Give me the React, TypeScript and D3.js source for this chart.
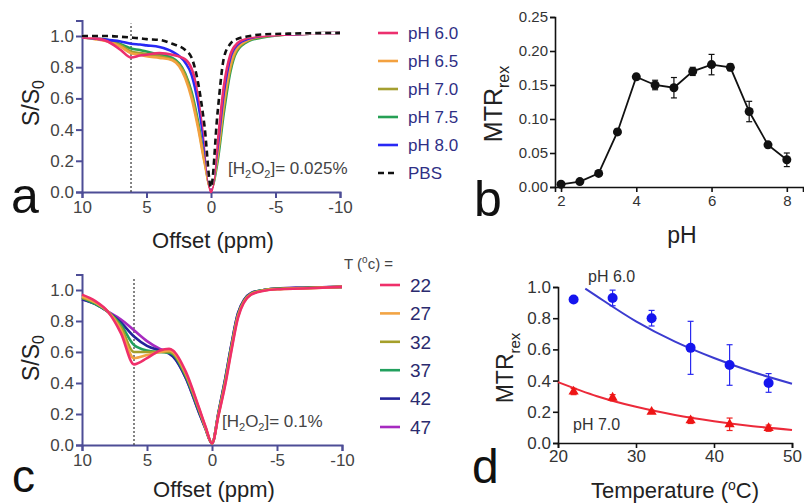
import React, { useEffect, useRef } from 'react';
import * as d3 from 'd3';

const WIDTH = 804;
const HEIGHT = 504;
const FONT = '"Liberation Sans", Arial, Helvetica, sans-serif';

// panel a: z-spectra at different pH, [H2O2] = 0.025%
const offsetsA = [10, 9, 8, 7, 6.2, 5.5, 5, 4, 3, 2, 1.5, 1, 0.5, 0, -0.5, -1, -1.5, -2, -3, -4, -6, -10];
const ph60 = [0.99, 0.985, 0.965, 0.91, 0.862, 0.875, 0.88, 0.89, 0.88, 0.85, 0.79, 0.64, 0.36, 0.0, 0.31, 0.68, 0.88, 0.95, 0.99, 1.0, 1.01, 1.02];
const ph65 = [0.99, 0.98, 0.965, 0.93, 0.89, 0.88, 0.87, 0.86, 0.845, 0.73, 0.6, 0.41, 0.19, 0.02, 0.23, 0.57, 0.81, 0.92, 0.98, 1.0, 1.01, 1.02];
const ph70 = [0.99, 0.985, 0.97, 0.94, 0.9, 0.89, 0.885, 0.87, 0.85, 0.75, 0.62, 0.43, 0.2, 0.02, 0.22, 0.55, 0.79, 0.91, 0.975, 0.995, 1.01, 1.02];
const ph75 = [0.99, 0.985, 0.975, 0.947, 0.92, 0.91, 0.9, 0.88, 0.86, 0.76, 0.64, 0.45, 0.21, 0.02, 0.19, 0.51, 0.77, 0.9, 0.97, 0.99, 1.01, 1.02];
const ph80 = [0.99, 0.985, 0.975, 0.965, 0.95, 0.945, 0.94, 0.93, 0.9, 0.83, 0.75, 0.57, 0.3, 0.02, 0.28, 0.64, 0.86, 0.94, 0.985, 1.0, 1.01, 1.02];
const pbs = [1.0, 1.0, 1.0, 0.995, 0.99, 0.985, 0.98, 0.975, 0.95, 0.91, 0.86, 0.7, 0.42, 0.03, 0.5, 0.86, 0.95, 0.98, 1.0, 1.01, 1.015, 1.02];
const phLabels = ['pH 6.0', 'pH 6.5', 'pH 7.0', 'pH 7.5', 'pH 8.0', 'PBS'];
const phColors = ['#ec2f6e', '#f3a140', '#a49f30', '#26a055', '#2828f5', '#111111'];

// panel b: MTRrex vs pH
const phB = [2, 2.5, 3, 3.5, 4, 4.5, 5, 5.5, 6, 6.5, 7, 7.5, 8];
const mtrB = [0.004, 0.008, 0.02, 0.081, 0.162, 0.15, 0.146, 0.17, 0.18, 0.176, 0.111, 0.062, 0.04];
const errB = [0.002, 0.002, 0.003, 0.004, 0.004, 0.007, 0.015, 0.006, 0.015, 0.005, 0.015, 0.004, 0.01];

// panel c: z-spectra at different temperatures, [H2O2] = 0.1%
const offsetsC = [10, 9, 8, 7, 6, 5, 4, 3.3, 3, 2, 1, 0.5, 0, -0.5, -1, -1.5, -2, -3, -4, -5, -7, -10];
const t22 = [0.97, 0.93, 0.86, 0.72, 0.52, 0.56, 0.61, 0.62, 0.61, 0.47, 0.24, 0.12, 0.01, 0.19, 0.38, 0.61, 0.82, 0.97, 0.995, 1.005, 1.01, 1.02];
const t27 = [0.96, 0.92, 0.86, 0.74, 0.56, 0.58, 0.6, 0.61, 0.6, 0.46, 0.235, 0.115, 0.01, 0.195, 0.39, 0.62, 0.83, 0.972, 0.997, 1.005, 1.01, 1.02];
const t32 = [0.95, 0.92, 0.86, 0.76, 0.6, 0.6, 0.6, 0.6, 0.59, 0.45, 0.23, 0.11, 0.01, 0.2, 0.4, 0.63, 0.835, 0.975, 0.998, 1.007, 1.012, 1.02];
const t37 = [0.95, 0.91, 0.86, 0.775, 0.645, 0.61, 0.6, 0.595, 0.585, 0.44, 0.22, 0.11, 0.01, 0.205, 0.41, 0.64, 0.84, 0.977, 1.0, 1.008, 1.013, 1.02];
const t42 = [0.94, 0.91, 0.86, 0.79, 0.7, 0.64, 0.61, 0.59, 0.57, 0.43, 0.21, 0.105, 0.01, 0.21, 0.42, 0.65, 0.85, 0.98, 1.0, 1.01, 1.015, 1.02];
const t47 = [0.94, 0.91, 0.86, 0.81, 0.74, 0.67, 0.62, 0.6, 0.575, 0.43, 0.21, 0.105, 0.01, 0.21, 0.42, 0.65, 0.85, 0.98, 1.0, 1.01, 1.015, 1.02];
const tempLabels = ['22', '27', '32', '37', '42', '47'];
const tempColors = ['#ef2f6a', '#f2a444', '#a59f2a', '#22a05e', '#23239a', '#a62ac0'];

// panel d: MTRrex vs temperature
const tempD = [22, 27, 32, 37, 42, 47];
const mtr60 = [0.92, 0.93, 0.8, 0.61, 0.5, 0.385];
const err60 = [0.01, 0.05, 0.05, 0.17, 0.13, 0.06];
const mtr70 = [0.33, 0.29, 0.2, 0.145, 0.12, 0.095];
const err70 = [0.02, 0.02, 0.01, 0.02, 0.04, 0.02];
const fitT60 = [23.5, 25, 30, 35, 40, 45, 50];
const fitV60 = [0.99, 0.94, 0.78, 0.65, 0.545, 0.455, 0.38];
const fitT70 = [20, 25, 30, 35, 40, 45, 50];
const fitV70 = [0.39, 0.3, 0.232, 0.18, 0.14, 0.108, 0.083];

const styleAxis = (g, color, width, fontSize, textColor) => {
  g.attr('font-family', FONT).attr('font-size', fontSize);
  g.select('.domain').attr('stroke', color).attr('stroke-width', width);
  g.selectAll('.tick line').attr('stroke', color).attr('stroke-width', width);
  g.selectAll('.tick text').attr('fill', textColor);
};

// draws a z-spectrum panel (a or c)
const drawZ = (svg, o) => {
  const x = d3.scaleLinear().domain([10, -10]).range(o.xRange);
  const y = d3.scaleLinear().domain([0, 1.1]).range(o.yRange);
  const axisColor = '#4d4d96';

  svg.append('g')
    .attr('transform', `translate(0, ${y(0)})`)
    .call(d3.axisBottom(x).tickValues([10, 5, 0, -5, -10]).tickFormat(d => String(d)).tickSizeOuter(0).tickSize(6).tickPadding(3))
    .call(g => styleAxis(g, axisColor, 2, 17, '#444'));

  svg.append('g')
    .attr('transform', `translate(${o.xRange[0]}, 0)`)
    .call(d3.axisLeft(y).tickValues([0, 0.2, 0.4, 0.6, 0.8, 1.0]).tickFormat(d3.format('.1f')).tickSizeOuter(0).tickSize(6).tickPadding(2))
    .call(g => styleAxis(g, axisColor, 2, 17, '#444'));

  svg.append('line')
    .attr('x1', x(o.dotted)).attr('x2', x(o.dotted))
    .attr('y1', y(0)).attr('y2', y(1.08))
    .attr('stroke', '#333').attr('stroke-width', 1.2).attr('stroke-dasharray', '2,2');

  const line = d3.line()
    .x((d, i) => x(o.offsets[i]))
    .y(d => y(d))
    .curve(d3.curveMonotoneX);

  o.order.forEach(i => {
    const dashed = o.dashed === i;
    if (dashed) {
      svg.append('path').attr('d', line(o.series[i])).attr('fill', 'none')
        .attr('stroke', '#fff').attr('stroke-width', 2.6);
    }
    svg.append('path')
      .attr('d', line(o.series[i]))
      .attr('fill', 'none')
      .attr('stroke', o.colors[i])
      .attr('stroke-width', 2.6)
      .attr('stroke-dasharray', dashed ? '6,4' : null);
  });

  // y label S/S0
  const yl = svg.append('text')
    .attr('transform', `translate(${o.yLabel[0]}, ${o.yLabel[1]}) rotate(-90)`)
    .attr('text-anchor', 'middle')
    .attr('font-family', FONT).attr('font-size', 23).attr('fill', '#222');
  yl.append('tspan').text('S/S');
  yl.append('tspan').attr('font-size', 16).attr('dy', 5).text('0');

  svg.append('text')
    .attr('x', (o.xRange[0] + o.xRange[1]) / 2 + 2).attr('y', o.xLabelY)
    .attr('text-anchor', 'middle')
    .attr('font-family', FONT).attr('font-size', 22).attr('fill', '#222')
    .text('Offset (ppm)');

  const ann = svg.append('text')
    .attr('x', o.ann[0]).attr('y', o.ann[1])
    .attr('font-family', FONT).attr('font-size', 17).attr('fill', '#444');
  ann.append('tspan').text('[H');
  ann.append('tspan').attr('font-size', 11).attr('dy', 4).text('2');
  ann.append('tspan').attr('dy', -4).text('O');
  ann.append('tspan').attr('font-size', 11).attr('dy', 4).text('2');
  ann.append('tspan').attr('dy', -4).text(o.annText);

  svg.append('text')
    .attr('x', o.letter[0]).attr('y', o.letter[1])
    .attr('font-family', FONT).attr('font-size', o.letter[2]).attr('fill', '#111')
    .text(o.letterText);
};

export default function App() {
  const ref = useRef(null);

  useEffect(() => {
    const svg = d3.select(ref.current);
    svg.selectAll('*').remove();

    // ---- panel a ----
    drawZ(svg, {
      offsets: offsetsA,
      series: [ph60, ph65, ph70, ph75, ph80, pbs],
      colors: phColors,
      order: [3, 2, 1, 4, 0, 5],
      dashed: 5,
      dotted: 6.2,
      xRange: [82, 340],
      yRange: [192, 20.4],
      yLabel: [39, 103],
      xLabelY: 248,
      ann: [228, 174],
      annText: ']= 0.025%',
      letter: [11, 213, 50],
      letterText: 'a',
    });

    const legA = svg.append('g');
    phLabels.forEach((lab, i) => {
      const yy = 33 + i * 28;
      legA.append('line')
        .attr('x1', 378).attr('x2', 398).attr('y1', yy).attr('y2', yy)
        .attr('stroke', phColors[i]).attr('stroke-width', 2.6)
        .attr('stroke-dasharray', i === 5 ? '6,4' : null);
      legA.append('text')
        .attr('x', 408).attr('y', yy).attr('dy', '0.36em')
        .attr('font-family', FONT).attr('font-size', 17).attr('fill', '#2f2f85')
        .text(lab);
    });

    // ---- panel b ----
    const xb = d3.scaleLinear().domain([1.84, 8.43]).range([555, 803]);
    const yb = d3.scaleLinear().domain([0, 0.25]).range([187, 17]);

    svg.append('g')
      .attr('transform', `translate(0, ${yb(0)})`)
      .call(d3.axisBottom(xb).tickValues([2, 4, 6, 8]).tickFormat(d3.format('d')).tickSizeOuter(0).tickSize(5).tickPadding(3))
      .call(g => styleAxis(g, '#111', 1.6, 15, '#333'));
    svg.append('g')
      .attr('transform', `translate(${xb.range()[0]}, 0)`)
      .call(d3.axisLeft(yb).tickValues([0, 0.05, 0.1, 0.15, 0.2, 0.25]).tickFormat(d3.format('.2f')).tickSizeOuter(0).tickSize(5).tickPadding(2))
      .call(g => styleAxis(g, '#111', 1.6, 15, '#333'));

    svg.append('path')
      .attr('d', d3.line().x((d, i) => xb(phB[i])).y(d => yb(d))(mtrB))
      .attr('fill', 'none').attr('stroke', '#111').attr('stroke-width', 1.8);

    phB.forEach((p, i) => {
      const cx = xb(p);
      const y1 = yb(mtrB[i] + errB[i]);
      const y2 = yb(mtrB[i] - errB[i]);
      svg.append('line').attr('x1', cx).attr('x2', cx).attr('y1', y1).attr('y2', y2).attr('stroke', '#111').attr('stroke-width', 1.2);
      [y1, y2].forEach(yy => svg.append('line').attr('x1', cx - 3).attr('x2', cx + 3).attr('y1', yy).attr('y2', yy).attr('stroke', '#111').attr('stroke-width', 1.2));
      svg.append('circle').attr('cx', cx).attr('cy', yb(mtrB[i])).attr('r', 4.5).attr('fill', '#111');
    });

    const ylb = svg.append('text')
      .attr('transform', 'translate(502, 104) rotate(-90)')
      .attr('text-anchor', 'middle')
      .attr('font-family', FONT).attr('font-size', 25).attr('fill', '#222');
    ylb.append('tspan').text('MTR');
    ylb.append('tspan').attr('font-size', 16).attr('dy', 7).text('rex');

    svg.append('text')
      .attr('x', 682).attr('y', 243).attr('text-anchor', 'middle')
      .attr('font-family', FONT).attr('font-size', 23).attr('fill', '#222')
      .text('pH');
    svg.append('text')
      .attr('x', 474).attr('y', 216)
      .attr('font-family', FONT).attr('font-size', 50).attr('fill', '#111')
      .text('b');

    // ---- panel c ----
    drawZ(svg, {
      offsets: offsetsC,
      series: [t22, t27, t32, t37, t42, t47],
      colors: tempColors,
      order: [5, 4, 3, 2, 1, 0],
      dashed: -1,
      dotted: 6.0,
      xRange: [82, 342],
      yRange: [445, 274.5],
      yLabel: [39, 358],
      xLabelY: 497,
      ann: [222, 427],
      annText: ']= 0.1%',
      letter: [12, 492, 46],
      letterText: 'c',
    });

    const title = svg.append('text')
      .attr('x', 344).attr('y', 269)
      .attr('font-family', FONT).attr('font-size', 15).attr('fill', '#444');
    title.append('tspan').text('T (');
    title.append('tspan').attr('font-size', 10).attr('dy', -6).text('o');
    title.append('tspan').attr('dy', 6).text('c) =');

    tempLabels.forEach((lab, i) => {
      const yy = 285 + i * 28.4;
      svg.append('line')
        .attr('x1', 380).attr('x2', 400).attr('y1', yy).attr('y2', yy)
        .attr('stroke', tempColors[i]).attr('stroke-width', 2.6);
      svg.append('text')
        .attr('x', 410).attr('y', yy).attr('dy', '0.36em')
        .attr('font-family', FONT).attr('font-size', 19).attr('fill', '#2b2b6e')
        .text(lab);
    });

    // ---- panel d ----
    const xd = d3.scaleLinear().domain([20, 50]).range([558, 792]);
    const yd = d3.scaleLinear().domain([0, 1]).range([443, 287]);

    svg.append('g')
      .attr('transform', `translate(0, ${yd(0)})`)
      .call(d3.axisBottom(xd).tickValues([20, 30, 40, 50]).tickSizeOuter(0).tickSize(5).tickPadding(2))
      .call(g => styleAxis(g, '#111', 1.6, 17, '#333'));
    svg.append('g')
      .attr('transform', `translate(${xd(20)}, 0)`)
      .call(d3.axisLeft(yd).tickValues([0, 0.2, 0.4, 0.6, 0.8, 1.0]).tickFormat(d3.format('.1f')).tickSizeOuter(0).tickSize(5).tickPadding(2))
      .call(g => styleAxis(g, '#111', 1.6, 17, '#333'));

    const fit = (ts) => d3.line().x((d, i) => xd(ts[i])).y(d => yd(d)).curve(d3.curveMonotoneX);
    svg.append('path').attr('d', fit(fitT60)(fitV60)).attr('fill', 'none').attr('stroke', '#3b3bd0').attr('stroke-width', 2);
    svg.append('path').attr('d', fit(fitT70)(fitV70)).attr('fill', 'none').attr('stroke', '#ec2a3a').attr('stroke-width', 2);

    const errBars = (vals, errs, color) => {
      tempD.forEach((t, i) => {
        const cx = xd(t);
        const y1 = yd(vals[i] + errs[i]);
        const y2 = yd(vals[i] - errs[i]);
        svg.append('line').attr('x1', cx).attr('x2', cx).attr('y1', y1).attr('y2', y2).attr('stroke', color).attr('stroke-width', 1.2);
        [y1, y2].forEach(yy => svg.append('line').attr('x1', cx - 3).attr('x2', cx + 3).attr('y1', yy).attr('y2', yy).attr('stroke', color).attr('stroke-width', 1.2));
      });
    };
    errBars(mtr60, err60, '#2a2af0');
    errBars(mtr70, err70, '#ee2222');

    tempD.forEach((t, i) => {
      svg.append('circle').attr('cx', xd(t)).attr('cy', yd(mtr60[i])).attr('r', 5).attr('fill', '#1515ee');
      svg.append('path')
        .attr('d', d3.symbol(d3.symbolTriangle, 45)())
        .attr('transform', `translate(${xd(t)}, ${yd(mtr70[i])})`)
        .attr('fill', '#ee1515');
    });

    svg.append('text')
      .attr('x', 588).attr('y', 282)
      .attr('font-family', FONT).attr('font-size', 16).attr('fill', '#333')
      .text('pH 6.0');
    svg.append('text')
      .attr('x', 573).attr('y', 430)
      .attr('font-family', FONT).attr('font-size', 16).attr('fill', '#333')
      .text('pH 7.0');

    const yld = svg.append('text')
      .attr('transform', 'translate(513, 368) rotate(-90)')
      .attr('text-anchor', 'middle')
      .attr('font-family', FONT).attr('font-size', 23).attr('fill', '#222');
    yld.append('tspan').text('MTR');
    yld.append('tspan').attr('font-size', 15).attr('dy', 7).text('rex');

    const xld = svg.append('text')
      .attr('x', 675).attr('y', 498).attr('text-anchor', 'middle')
      .attr('font-family', FONT).attr('font-size', 22).attr('fill', '#222');
    xld.append('tspan').text('Temperature (');
    xld.append('tspan').attr('font-size', 14).attr('dy', -8).text('o');
    xld.append('tspan').attr('dy', 8).text('C)');

    svg.append('text')
      .attr('x', 472).attr('y', 483)
      .attr('font-family', FONT).attr('font-size', 48).attr('fill', '#111')
      .text('d');
  }, []);

  return (
    <svg
      ref={ref}
      width={WIDTH}
      height={HEIGHT}
      style={{ position: 'absolute', left: 0, top: 0, background: '#fff' }}
    />
  );
}
